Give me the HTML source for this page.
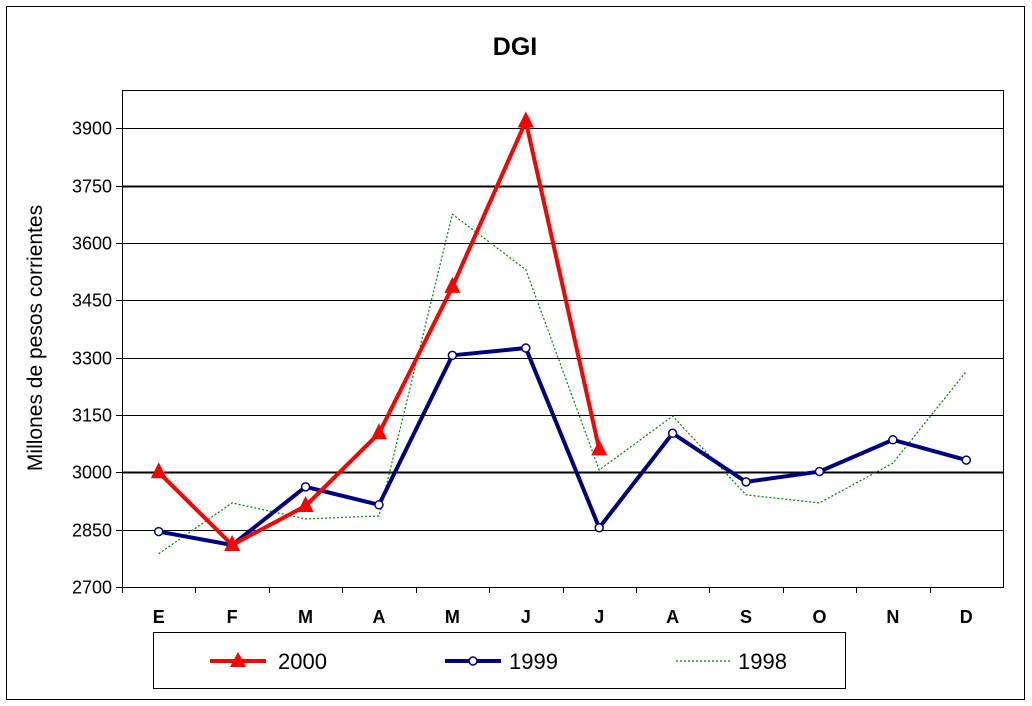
<!DOCTYPE html>
<html><head><meta charset="utf-8"><style>
body{margin:0;background:#fff;}
svg{display:block;font-family:"Liberation Sans",Arial,sans-serif;}
</style></head><body>
<svg id="c" width="1032" height="706">
<rect x="6.5" y="6.5" width="1018" height="693" fill="#fff" stroke="#000"/>
<text x="515" y="55" font-size="25" font-weight="bold" text-anchor="middle">DGI</text>
<rect x="122.5" y="90.5" width="881" height="497" fill="#fff" stroke="#000"/>
<text transform="translate(42,338) rotate(-90)" font-size="21" text-anchor="middle">Millones de pesos corrientes</text>
<g id="grid"></g><g id="series"></g>
<rect x="153.5" y="632.5" width="692" height="56" fill="#fff" stroke="#000"/>
<g>
<line x1="210" y1="661" x2="266" y2="661" stroke="#ff0000" stroke-width="4"/>
<polygon points="238,652 246,667 230,667" fill="#ff0000"/>
<text x="278" y="669" font-size="22">2000</text></g>
<g>
<line x1="445" y1="661" x2="501" y2="661" stroke="#000080" stroke-width="4"/>
<circle cx="473" cy="661" r="4" fill="#fff" stroke="#000080" stroke-width="1.5"/>
<text x="509" y="669" font-size="22">1999</text></g>
<g>
<line x1="676" y1="661" x2="732" y2="661" stroke="#008000" stroke-width="1.2" stroke-dasharray="2,2"/>
<text x="738" y="669" font-size="22">1998</text></g>
</svg>
<script>
const categories=["E","F","M","A","M","J","J","A","S","O","N","D"];
const yTicks=[2700,2850,3000,3150,3300,3450,3600,3750,3900];
const s2000=[3000,2810,2912,3102,3485,3918,3060];
const s1999=[2845,2810,2962,2915,3306,3325,2855,3102,2975,3002,3085,3032];
const s1998=[2787,2920,2878,2886,3675,3530,3006,3147,2941,2920,3024,3264];
const X0=122,X1=1003,Y0=587,Ymin=2700,Ymax=4000,Ytop=90;
const NS="http://www.w3.org/2000/svg";
const bw=(X1-X0)/categories.length;
const x=i=>X0+bw*(i+0.5);
const y=v=>Y0-(v-Ymin)/(Ymax-Ymin)*(Y0-Ytop);
function mk(t,a,p){const e=document.createElementNS(NS,t);for(const k in a)e.setAttribute(k,a[k]);p.appendChild(e);return e;}
const grid=document.getElementById('grid'),ser=document.getElementById('series');
yTicks.forEach(v=>{
 const yy=Math.round(y(v))+0.5;
 if(v>Ymin){const l=mk('line',{x1:X0,x2:X1,y1:yy,y2:yy,stroke:'#000','stroke-width':(v==3000||v==3750)?2:1},grid);
 
 }
 const tk=mk('line',{x1:X0-6,x2:X0,y1:yy,y2:yy,stroke:'#000'},grid);
 
 
 const t=mk('text',{x:X0-10,y:yy+6,'font-size':18,'text-anchor':'end'},grid);t.textContent=v;
 
 
});
categories.forEach((c,i)=>{
 const xx=Math.round(X0+bw*i)+0.5;
 const tk=mk('line',{x1:xx,x2:xx,y1:Y0,y2:Y0+6,stroke:'#000'},grid);
 
 
 const t=mk('text',{x:x(i),y:623,'font-size':18,'font-weight':'bold','text-anchor':'middle'},grid);t.textContent=c;
 
 
});
function line(d,stroke,w,dash,name){
 const p=mk('polyline',{points:d.map((v,i)=>x(i)+','+y(v)).join(' '),fill:'none',stroke:stroke,'stroke-width':w,'stroke-linejoin':'miter'},ser);
 if(dash)p.setAttribute('stroke-dasharray',dash);
 
 
}
line(s1998,'#008000',1.2,'2,2','line-1998');
line(s1999,'#000080',4,null,'line-1999');
s1999.forEach((v,i)=>{const c=mk('circle',{cx:x(i),cy:y(v),r:4,fill:'#fff',stroke:'#000080','stroke-width':1.5},ser);
 
 });
line(s2000,'#ff0000',4,null,'line-2000');
s2000.forEach((v,i)=>{const xx=x(i),yy=y(v);const p=mk('polygon',{points:`${xx},${yy-10} ${xx+8},${yy+6} ${xx-8},${yy+6}`,fill:'#ff0000'},ser);
 
 });
</script>
</body></html>
